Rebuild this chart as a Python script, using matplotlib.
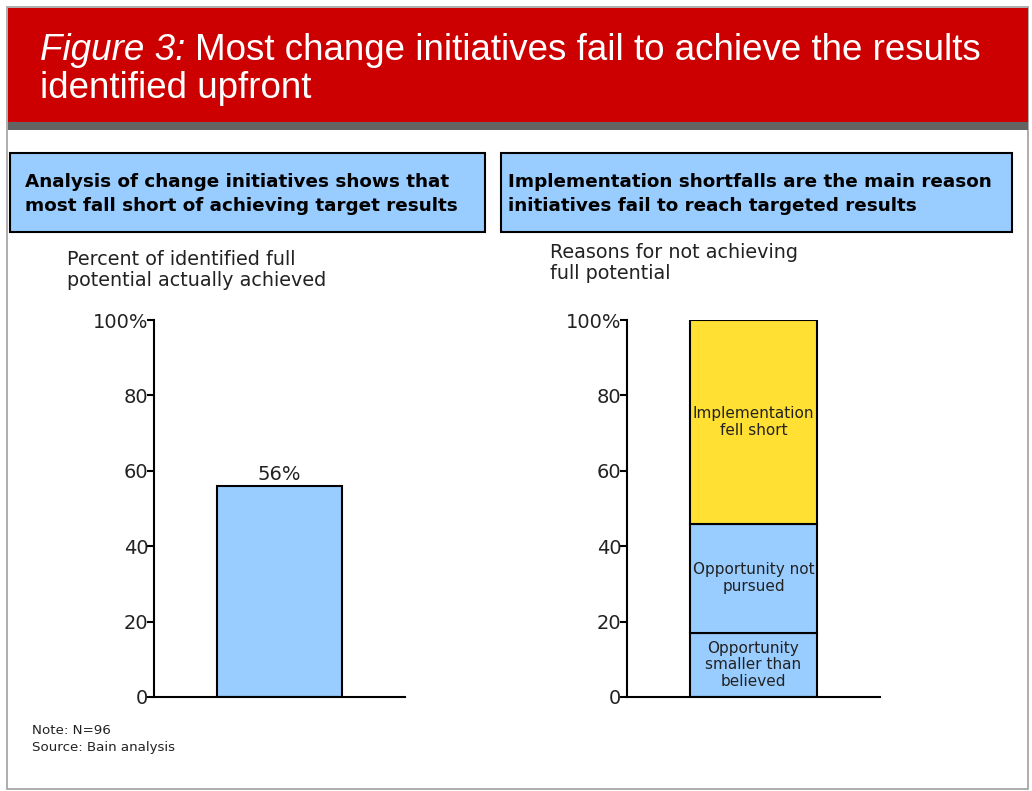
import matplotlib
matplotlib.use("Agg")
import matplotlib.pyplot as plt
from matplotlib.patches import Rectangle

plt.rcParams['font.family'] = ['DejaVu Sans']

W, H = 1032, 791

# data
achieved_pct = [56]
segment_labels = ["Opportunity\nsmaller than\nbelieved", "Opportunity not\npursued", "Implementation\nfell short"]
segment_values = [17, 29, 54]
segment_colors = ["#99CCFF", "#99CCFF", "#FFE033"]
y_ticks = [0, 20, 40, 60, 80, 100]
y_ticklabels = ["0", "20", "40", "60", "80", "100%"]

fig = plt.figure(figsize=(W / 100, H / 100), dpi=100)
fig.patch.set_facecolor("white")


def px_rect(x0, y0, x1, y1, **kw):
    # rectangle from pixel corners (top-left origin)
    r = Rectangle((x0 / W, 1 - y1 / H), (x1 - x0) / W, (y1 - y0) / H,
                  transform=fig.transFigure, **kw)
    fig.patches.append(r)


def px_text(x, y, s, **kw):
    return fig.text(x / W, 1 - y / H, s, **kw)


# frame, header band and grey bar
px_rect(7, 7, 1028, 789, facecolor="none", edgecolor="#A0A0A0", lw=1.2, zorder=0)
px_rect(8, 8, 1028, 122, facecolor="#CC0000", edgecolor="none", zorder=1)
px_rect(8, 122, 1028, 130, facecolor="#636363", edgecolor="none", zorder=1)

fig_lab = px_text(40, 50, "Figure 3:", color="white", fontsize=26.5, style="italic",
                  family="Liberation Sans", va="center")
renderer = fig.canvas.get_renderer()
bb = fig_lab.get_window_extent(renderer)
px_text(bb.x1 + 10, 50, "Most change initiatives fail to achieve the results",
        color="white", fontsize=26.5, family="Liberation Sans", va="center")
px_text(40, 88, "identified upfront", color="white", fontsize=26.5,
        family="Liberation Sans", va="center")

# panel headers
px_rect(10, 153, 485, 232, facecolor="#99CCFF", edgecolor="black", lw=1.5, zorder=1)
px_rect(501, 153, 1012, 232, facecolor="#99CCFF", edgecolor="black", lw=1.5, zorder=1)
px_text(25, 194, "Analysis of change initiatives shows that\nmost fall short of achieving target results",
        fontsize=13.2, fontweight="bold", va="center", linespacing=1.38)
px_text(508, 194, "Implementation shortfalls are the main reason\ninitiatives fail to reach targeted results",
        fontsize=13.2, fontweight="bold", va="center", linespacing=1.38)

# subtitles
px_text(67, 270, "Percent of identified full\npotential actually achieved",
        fontsize=13.8, va="center", color="#222222", linespacing=1.15)
px_text(550, 263, "Reasons for not achieving\nfull potential",
        fontsize=13.8, va="center", color="#222222", linespacing=1.15)


def make_axes(x0, x1):
    ax = fig.add_axes([x0 / W, 1 - 697 / H, (x1 - x0) / W, (697 - 320) / H])
    ax.set_zorder(3)
    ax.set_facecolor("none")
    ax.set_xlim(0, 1)
    ax.set_ylim(0, 100)
    for s in ["top", "right"]:
        ax.spines[s].set_visible(False)
    for s in ["left", "bottom"]:
        ax.spines[s].set_linewidth(1.5)
    ax.set_xticks([])
    ax.set_yticks(y_ticks)
    ax.set_yticklabels(y_ticklabels, fontsize=14, color="#222222")
    ax.tick_params(axis="y", length=5, width=1.5, pad=-1)
    return ax


# left chart
ax1 = make_axes(154, 405)
bars = ax1.bar([0.5], achieved_pct, width=0.5, color="#99CCFF",
               edgecolor="black", linewidth=1.5)
ax1.bar_label(bars, labels=[f"{v}%" for v in achieved_pct], fontsize=14,
              padding=1, color="#222222")

# right chart
ax2 = make_axes(627, 880)
bottom = 0
for lab, val, col in zip(segment_labels, segment_values, segment_colors):
    ax2.bar([0.5], [val], bottom=bottom, width=0.5, color=col,
            edgecolor="black", linewidth=1.5)
    ax2.text(0.5, bottom + val / 2, lab,
             ha="center", va="center", fontsize=11, color="#222222",
             linespacing=1.15)
    bottom += val

# notes
px_text(32, 731, "Note: N=96", fontsize=9.6, va="center", color="#222222")
px_text(32, 747, "Source: Bain analysis", fontsize=9.6, va="center", color="#222222")

fig.savefig("out.png", dpi=100)
